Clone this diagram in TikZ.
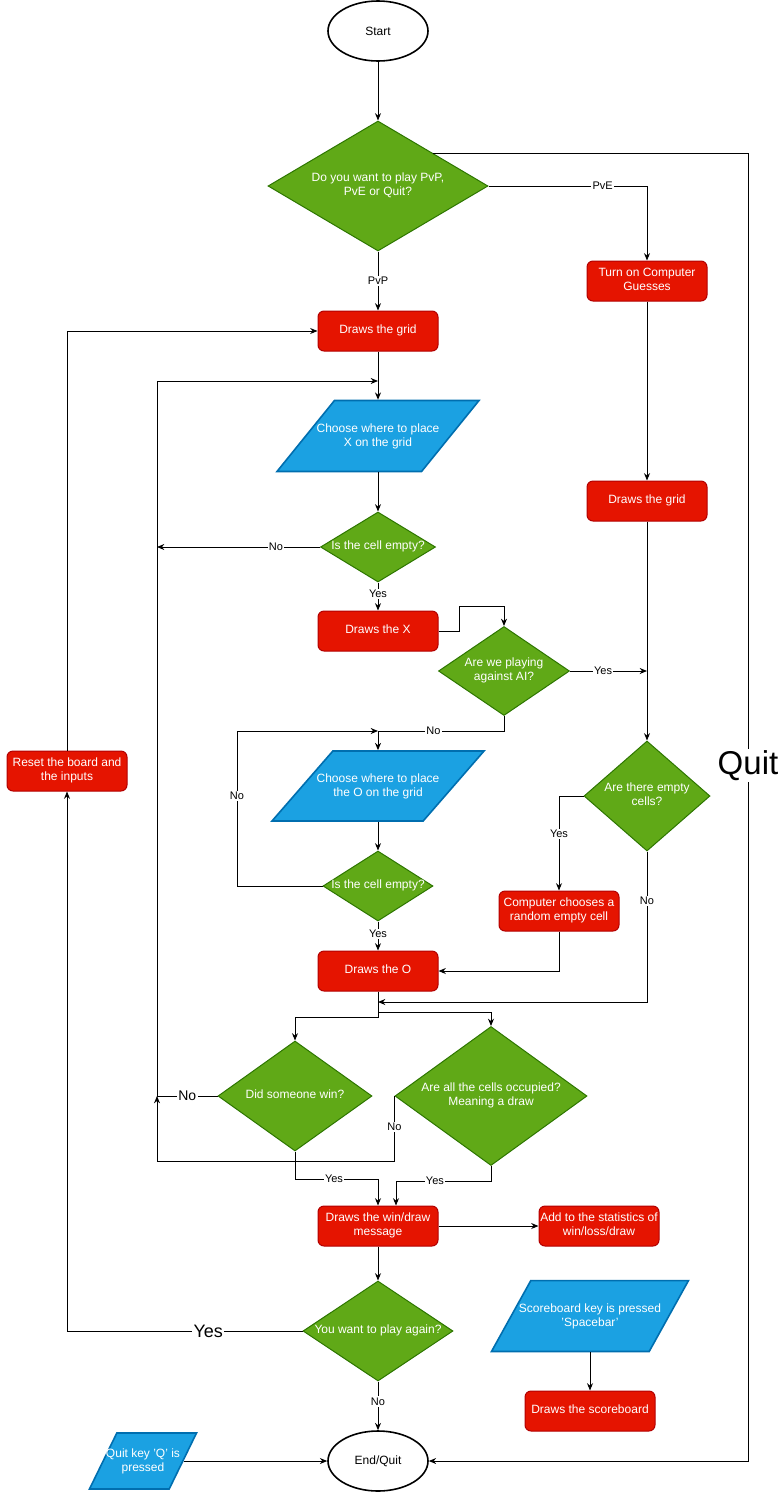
\documentclass[tikz,border=0pt]{standalone}
\usepackage{fontspec}
\setmainfont{Liberation Sans}
\usetikzlibrary{shapes.geometric, arrows.meta}
\definecolor{procfill}{HTML}{E51400}
\definecolor{procline}{HTML}{B20000}
\definecolor{decfill}{HTML}{60A917}
\definecolor{decline}{HTML}{2D7600}
\definecolor{iofill}{HTML}{1BA1E2}
\definecolor{ioline}{HTML}{006EAF}
\newcommand{\boxtext}[1]{\makebox[0pt]{\begin{tabular}{@{}c@{}}#1\end{tabular}}}

\begin{document}
\begin{tikzpicture}[x=0.75pt, y=-0.75pt, >={Stealth[length=5.5pt, width=4.5pt]}, line width=0.75pt,
  every node/.style={font=\fontsize{9}{10.5}\selectfont},
  terminal/.style={ellipse, draw, line width=1.2pt, minimum width=75pt, minimum height=45pt, inner sep=0pt},
  process/.style={rectangle, rounded corners=4.5pt, draw=procline, fill=procfill, text=white, minimum width=90pt, minimum height=30pt, inner sep=0pt},
  decision/.style={diamond, draw=decline, fill=decfill, text=white, inner sep=0pt},
  io/.style={trapezium, trapezium stretches body=true, trapezium left angle=#1, trapezium right angle=180-#1, draw=ioline, line width=1.2pt, fill=iofill, inner xsep=0pt},
  iotext/.style={text=white, align=center, inner sep=0pt},
  lbl/.style={fill=white, inner sep=1pt, font=\fontsize{8.25}{9}\selectfont},
  biglbl/.style={fill=white, inner sep=1pt, font=\fontsize{#1}{#1}\selectfont}]
\useasboundingbox (0,0) rectangle (781,1492);

\node[terminal] (start) at (378,31) {Start};
\node[decision, minimum width=165pt, minimum height=97.5pt] (mode) at (378,186) {\boxtext{Do you want to play PvP,\\PvE or Quit?}};
\node[process] (gridA) at (378,331) {\boxtext{Draws the grid}};
\node[io=51, minimum width=151.5pt, inner ysep=26.6pt, label={[iotext]center:{Choose where to place\\X on the grid}}] (placeX) at (378,436) {};
\node[decision, minimum width=86.25pt, minimum height=52.5pt] (cellA) at (378,547) {\boxtext{Is the cell empty?}};
\node[process] (drawX) at (378,631) {\boxtext{Draws the X}};
\node[decision, minimum width=98.25pt, minimum height=66.75pt] (ai) at (504,671) {\boxtext{Are we playing\\against AI?}};
\node[io=49, minimum width=159pt, inner ysep=26.25pt, label={[iotext]center:{Choose where to place\\the O on the grid}}] (placeO) at (378,786) {};
\node[decision, minimum width=82.5pt, minimum height=52.5pt] (cellB) at (378,886) {\boxtext{Is the cell empty?}};
\node[process] (drawO) at (378,971) {\boxtext{Draws the O}};
\node[process] (reset) at (67,771) {\boxtext{Reset the board and\\the inputs}};
\node[process] (computer) at (647,281) {\boxtext{Turn on Computer\\Guesses}};
\node[process] (gridB) at (647,501) {\boxtext{Draws the grid}};
\node[decision, minimum width=94.5pt, minimum height=82.5pt] (empty) at (647,796) {\boxtext{Are there empty\\cells?}};
\node[process] (random) at (559,911) {\boxtext{Computer chooses a\\random empty cell}};
\node[decision, minimum width=115.5pt, minimum height=82.5pt] (win) at (295,1096) {\boxtext{Did someone win?}};
\node[decision, minimum width=144pt, minimum height=104.25pt] (full) at (491,1096) {\boxtext{Are all the cells occupied?\\Meaning a draw}};
\node[process] (msg) at (378,1226) {\boxtext{Draws the win/draw\\message}};
\node[process] (stats) at (599,1226) {\boxtext{Add to the statistics of\\win/loss/draw}};
\node[decision, minimum width=112.5pt, minimum height=75pt] (again) at (378,1331) {\boxtext{You want to play again?}};
\node[terminal] (finish) at (378,1461) {End/Quit};
\node[io=64, minimum width=80.25pt, inner ysep=21pt, label={[iotext]center:{Quit key 'Q' is\\pressed}}] (quitkey) at (143,1461) {};
\node[io=61, minimum width=147.75pt, inner ysep=26.6pt, label={[iotext]center:{Scoreboard key is pressed\\'Spacebar'}}] (scorekey) at (590,1316) {};
\node[process, minimum width=97.5pt] (scoreboard) at (590,1411) {\boxtext{Draws the scoreboard}};

\coordinate (joinX) at (378,381);
\coordinate (joinO) at (378,731);
\coordinate (joinE) at (378,1002);
\coordinate (joinW) at (157,1096);
\coordinate (backA) at (157,547);

\draw[->] (start) -- (mode);
\draw[->] (mode) -- node[lbl] {PvP} (gridA);
\draw[->] (mode.east) -| node[lbl, pos=0.36] {PvE} (computer.north);
\draw[->] (mode.north east) -- (mode.north east -| 748,0) |- node[biglbl=24.75, pos=0.234] {Quit} (finish.east);
\draw[->] (gridA) -- (placeX);
\draw[->] (placeX) -- (cellA);
\draw[->] (cellA.west) -- node[lbl, pos=0.27] {No} (backA);
\draw[->] (cellA) -- node[lbl, pos=0.4] {Yes} (drawX);
\draw[->] (drawX.east) -| (459,606) -| (ai.north);
\draw[->] (ai.east) -- node[lbl, pos=0.43] {Yes} (ai.east -| gridB);
\draw[->] (ai.south) |- node[lbl, pos=0.78] {No} (joinO) -- (placeO);
\draw[->] (cellB.west) -| node[lbl, pos=0.79] {No} (237,731) -- (joinO);
\draw[->] (placeO) -- (cellB);
\draw[->] (cellB) -- node[lbl, pos=0.43] {Yes} (drawO);
\draw[->] (computer) -- (gridB);
\draw[->] (gridB) -- (empty);
\draw[->] (empty.west) -| node[lbl, pos=0.7] {Yes} (random.north);
\draw[->] (random.south) |- (drawO.east);
\draw[->] (empty.south) |- node[lbl, pos=0.165] {No} (joinE);
\draw[->] (drawO.south) -- (378,1017) -| (win.north);
\draw[->] (drawO.south) -- (378,1012) -| (full.north);
\draw[->] (win.west) -- node[biglbl=10.5] {No} (joinW) -- (157,381) -- (joinX);
\draw[->] (full.west) |- node[lbl, pos=0.24] {No} (157,1161) -- (joinW);
\draw[->] (win.south) -- (295,1179) -| node[lbl, pos=0.235] {Yes} (msg.north);
\draw[->] (full.south) -- (491,1181) -| node[lbl, pos=0.295] {Yes} (396,0 |- msg.north);
\draw[->] (msg) -- (stats);
\draw[->] (msg) -- (again);
\draw[->] (again.west) -| node[biglbl=13.5, pos=0.2] {Yes} (reset.south);
\draw[->] (reset.north) |- (gridA.west);
\draw[->] (again) -- node[lbl, pos=0.41] {No} (finish);
\draw[->] (quitkey.east) -- (finish.west);
\draw[->] (scorekey) -- (scoreboard);
\end{tikzpicture}
\end{document}
